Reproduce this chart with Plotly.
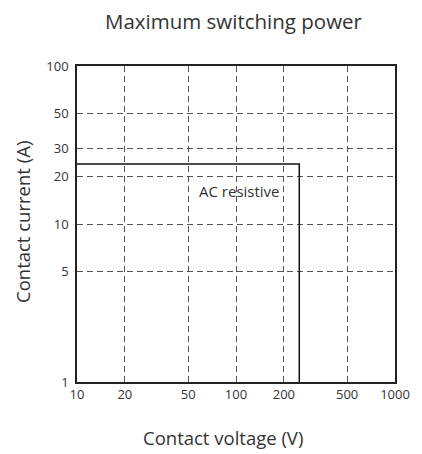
import plotly.graph_objects as go

# Data
voltage = [10, 250, 250]          # V
current = [24, 24, 1]             # A
x_ticks = [10, 20, 50, 100, 200, 500, 1000]
y_ticks = [1, 5, 10, 20, 30, 50, 100]
series_label = "AC resistive"

FONT = "Open Sans"
TXT = "#333333"

W, H = 414, 446   # page has an 8px body margin

fig = go.Figure()
fig.add_trace(go.Scatter(
    x=voltage, y=current, mode="lines",
    line=dict(color="#111111", width=1.5),
    showlegend=False, hoverinfo="skip", cliponaxis=False,
))

fig.add_annotation(x=2.02, y=1.207, xref="x", yref="y", text=series_label,
                   showarrow=False, xanchor="center", yanchor="middle",
                   font=dict(family=FONT, size=15, color=TXT))

fig.add_annotation(x=0.5, y=0, xref="paper", yref="paper", xshift=-13, yshift=-55,
                   xanchor="center", yanchor="middle",
                   text="Contact voltage (V)", showarrow=False,
                   font=dict(family=FONT, size=18.5, color=TXT))
fig.add_annotation(x=0, y=0.5, xref="paper", yref="paper", xshift=-55, yshift=2,
                   xanchor="center", yanchor="middle",
                   text="Contact current (A)", showarrow=False, textangle=-90,
                   font=dict(family=FONT, size=18.5, color=TXT))

fig.update_layout(
    width=W, height=H,
    margin=dict(l=69, r=24, t=58, b=72),
    paper_bgcolor="white", plot_bgcolor="white",
    title=dict(text="Maximum switching power", x=225.5 / W, xref="container", xanchor="center",
               y=1 - 14 / H, yref="container", yanchor="middle",
               font=dict(family=FONT, size=20.5, color=TXT)),
    font=dict(family=FONT, color=TXT),
)
fig.update_xaxes(
    type="log", range=[1, 3], tickvals=x_ticks, ticktext=[str(v) for v in x_ticks],
    showgrid=True, gridcolor="#555555", gridwidth=1, griddash="6px,4px",
    showline=True, linecolor="#222222", linewidth=1.5, mirror=True,
    ticks="", ticklabelstandoff=0, tickfont=dict(family=FONT, size=13, color=TXT),
    zeroline=False, fixedrange=True,
)
fig.update_yaxes(
    type="log", range=[0, 2], tickvals=y_ticks, ticktext=[str(v) for v in y_ticks],
    showgrid=True, gridcolor="#555555", gridwidth=1, griddash="6px,4px",
    showline=True, linecolor="#222222", linewidth=1.5, mirror=True,
    ticks="", ticklabelstandoff=4, tickfont=dict(family=FONT, size=13, color=TXT),
    zeroline=False, fixedrange=True,
)

fig.write_html("out.html")
